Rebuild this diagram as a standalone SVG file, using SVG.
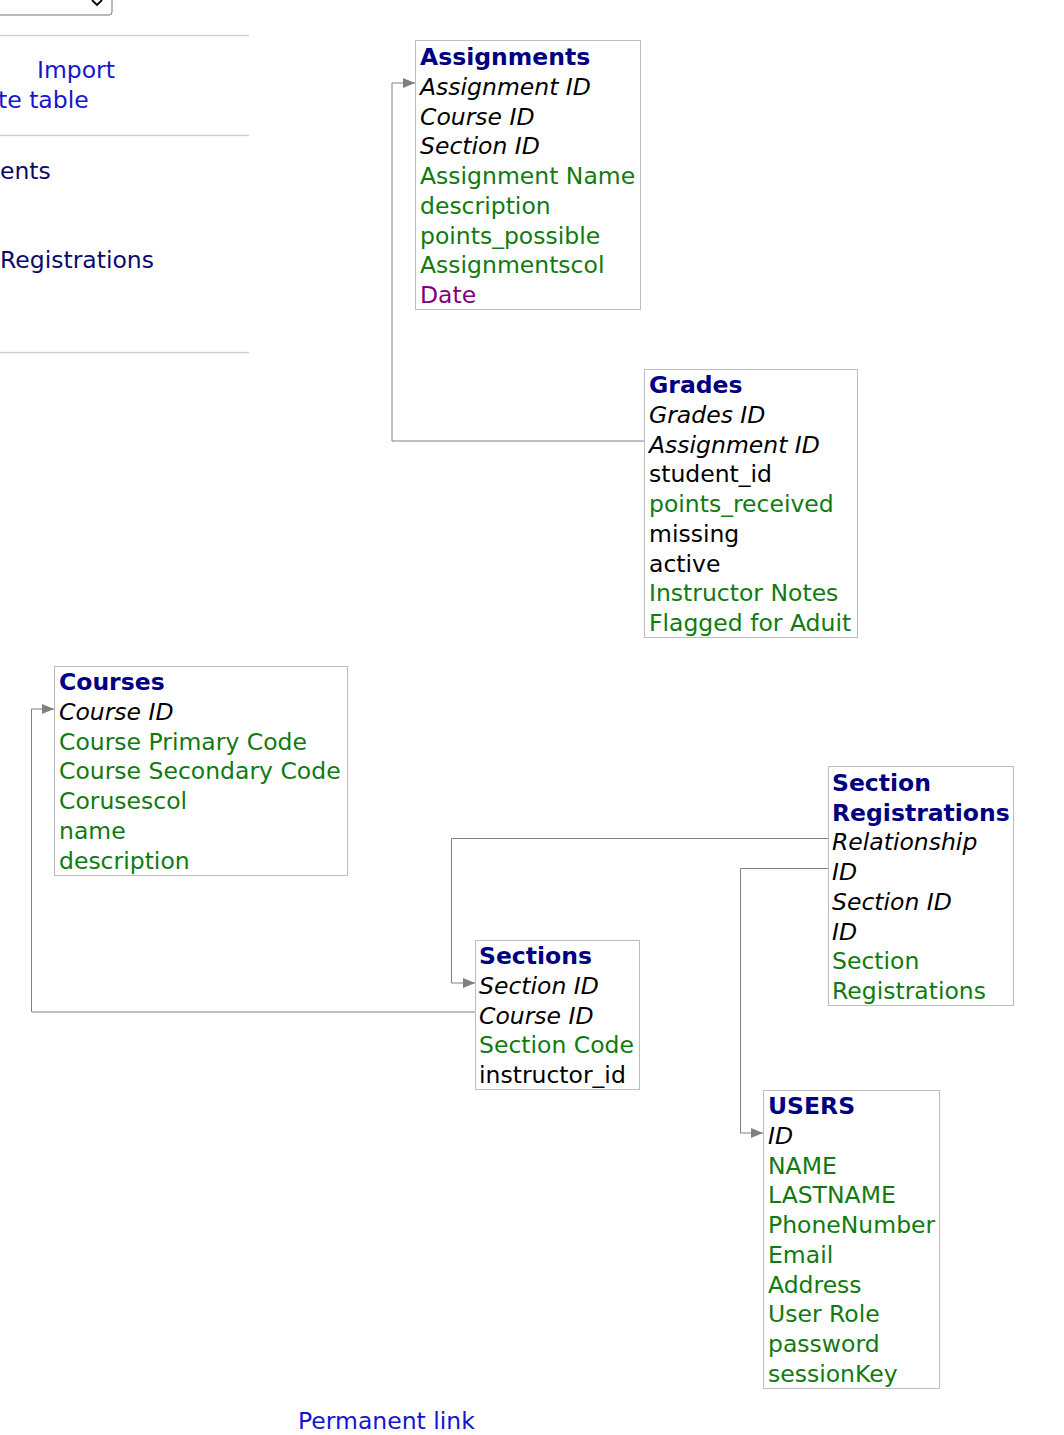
<svg xmlns="http://www.w3.org/2000/svg" width="1064" height="1435" viewBox="0 0 1064 1435">
<defs>
<style>
text{font-family:"DejaVu Sans","Verdana",sans-serif;font-size:23.5px}
.t{font-weight:bold;fill:#000080}
.k{font-style:italic;fill:#000}
.g{fill:#117a11}
.b{fill:#000}
.p{fill:#800080}
.box{fill:#fff;stroke:#bdbdbd;stroke-width:1}
.c{fill:none;stroke:#808080;stroke-width:1}
.lnk{fill:#1515d0}
.nav{fill:#0a0a6a}
.sep{stroke:#d0d0d0;stroke-width:1.5}
</style>
<marker id="ar" viewBox="0 0 12 10" refX="12" refY="5" markerWidth="12" markerHeight="10" markerUnits="userSpaceOnUse" orient="auto">
<path d="M0,0 L12,5 L0,10 z" fill="#808080"/>
</marker>
</defs>
<rect width="1064" height="1435" fill="#fff"/>
<g id="sidebar">
<rect x="-4" y="-10" width="116" height="25" rx="3" fill="#fff" stroke="#777" stroke-width="1"/>
<path d="M92,0 L97,5 L102,0" fill="none" stroke="#000" stroke-width="1.8"/>
<line class="sep" x1="0" y1="35.5" x2="249" y2="35.5"/>
<line class="sep" x1="0" y1="135.5" x2="249" y2="135.5"/>
<line class="sep" x1="0" y1="352.5" x2="249" y2="352.5"/>
<text class="lnk" x="37" y="78">Import</text>
<text class="lnk" x="-2" y="108">te table</text>
<text class="nav" x="0" y="179">ents</text>
<text class="nav" x="0" y="268">Registrations</text>
</g>
<g id="connectors">
<polyline class="c" points="644,441 392,441 392,83 415,83" marker-end="url(#ar)"/>
<polyline class="c" points="828,838.5 451.5,838.5 451.5,983 475,983" marker-end="url(#ar)"/>
<polyline class="c" points="828,868.5 740.5,868.5 740.5,1133 763,1133" marker-end="url(#ar)"/>
<polyline class="c" points="475,1012 31.5,1012 31.5,709 54,709" marker-end="url(#ar)"/>
</g>
<g id="assignments">
<rect class="box" x="415.5" y="40.5" width="225" height="269"/>
<text class="t" x="420" y="65">Assignments</text>
<text class="k" x="420" y="95">Assignment ID</text>
<text class="k" x="420" y="124.7">Course ID</text>
<text class="k" x="420" y="154.4">Section ID</text>
<text class="g" x="420" y="184.1">Assignment Name</text>
<text class="g" x="420" y="213.8">description</text>
<text class="g" x="420" y="243.5">points_possible</text>
<text class="g" x="420" y="273.2">Assignmentscol</text>
<text class="p" x="420" y="302.9">Date</text>
</g>
<g id="grades">
<rect class="box" x="644.5" y="369.5" width="213" height="268"/>
<text class="t" x="649" y="393">Grades</text>
<text class="k" x="649" y="423">Grades ID</text>
<text class="k" x="649" y="452.7">Assignment ID</text>
<text class="b" x="649" y="482.4">student_id</text>
<text class="g" x="649" y="512.1">points_received</text>
<text class="b" x="649" y="541.8">missing</text>
<text class="b" x="649" y="571.5">active</text>
<text class="g" x="649" y="601.2">Instructor Notes</text>
<text class="g" x="649" y="630.9">Flagged for Aduit</text>
</g>
<g id="courses">
<rect class="box" x="54.5" y="666.5" width="293" height="209"/>
<text class="t" x="59" y="690">Courses</text>
<text class="k" x="59" y="720">Course ID</text>
<text class="g" x="59" y="749.7">Course Primary Code</text>
<text class="g" x="59" y="779.4">Course Secondary Code</text>
<text class="g" x="59" y="809.1">Corusescol</text>
<text class="g" x="59" y="838.8">name</text>
<text class="g" x="59" y="868.5">description</text>
</g>
<g id="section-registrations">
<rect class="box" x="828.5" y="766.5" width="185" height="239"/>
<text class="t" x="832" y="791">Section</text>
<text class="t" x="832" y="820.7">Registrations</text>
<text class="k" x="832" y="850.4">Relationship</text>
<text class="k" x="832" y="880.1">ID</text>
<text class="k" x="832" y="909.8">Section ID</text>
<text class="k" x="832" y="939.5">ID</text>
<text class="g" x="832" y="969.2">Section</text>
<text class="g" x="832" y="998.9">Registrations</text>
</g>
<g id="sections">
<rect class="box" x="475.5" y="940.5" width="164" height="149"/>
<text class="t" x="479" y="964">Sections</text>
<text class="k" x="479" y="994">Section ID</text>
<text class="k" x="479" y="1023.7">Course ID</text>
<text class="g" x="479" y="1053.4">Section Code</text>
<text class="b" x="479" y="1083.1">instructor_id</text>
</g>
<g id="users">
<rect class="box" x="763.5" y="1090.5" width="176" height="298"/>
<text class="t" x="768" y="1114">USERS</text>
<text class="k" x="768" y="1144">ID</text>
<text class="g" x="768" y="1173.7">NAME</text>
<text class="g" x="768" y="1203.4">LASTNAME</text>
<text class="g" x="768" y="1233.1">PhoneNumber</text>
<text class="g" x="768" y="1262.8">Email</text>
<text class="g" x="768" y="1292.5">Address</text>
<text class="g" x="768" y="1322.2">User Role</text>
<text class="g" x="768" y="1351.9">password</text>
<text class="g" x="768" y="1381.6">sessionKey</text>
</g>
<text class="lnk" x="298" y="1429">Permanent link</text>
</svg>
